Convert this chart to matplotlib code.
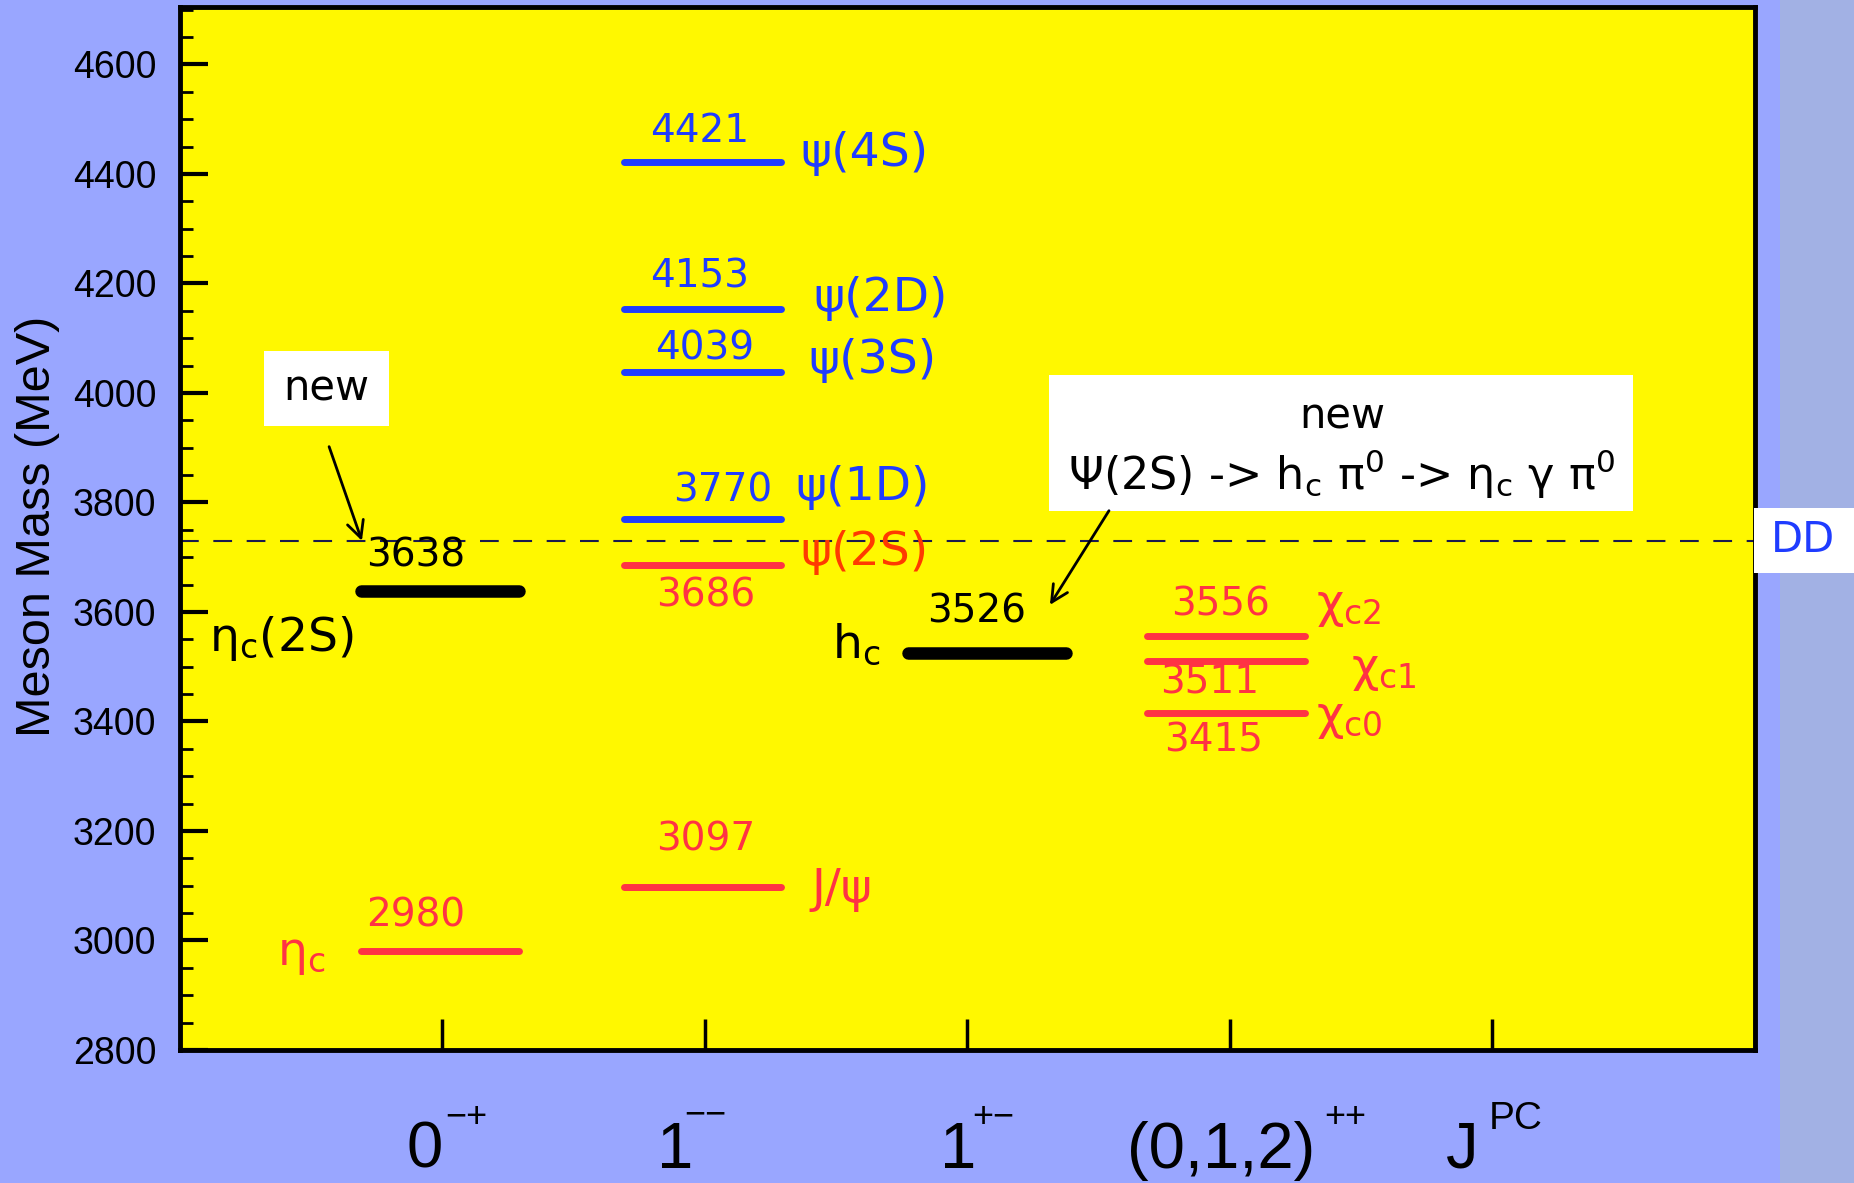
import matplotlib
matplotlib.use("Agg")
import matplotlib.pyplot as plt
from matplotlib.patches import Rectangle
from matplotlib.ticker import MultipleLocator
from matplotlib.transforms import blended_transform_factory

# ---- data -------------------------------------------------------------
jpc_base = ["0", "1", "1", "(0,1,2)", "J"]
jpc_sup = ["\u2212+", "\u2212\u2212", "+\u2212", "++", "PC"]

state_names = ["eta_c", "eta_c(2S)", "J/psi", "psi(2S)", "psi(1D)", "psi(3S)",
               "psi(2D)", "psi(4S)", "h_c", "chi_c0", "chi_c1", "chi_c2"]
state_mass = [2980, 3638, 3097, 3686, 3770, 4039, 4153, 4421, 3526, 3415, 3511, 3556]
state_column = [1, 1, 2, 2, 2, 2, 2, 2, 3, 4, 4, 4]
state_group = ["known", "new", "known", "known", "open", "open", "open", "open",
               "new", "known", "known", "known"]
dd_threshold = 3730

# ---- style ------------------------------------------------------------
BG = "#99A6FF"
YELLOW = "#FFF800"
RED = "#FF3344"
BLUE = "#1F3CFF"
ORANGE = "#FF3A00"
group_color = {"known": RED, "open": BLUE, "new": "black"}
group_lw = {"known": 5, "open": 5, "new": 9}
column_shift = {1: -0.01, 2: -0.01, 3: 0.075, 4: -0.015}
half_width = 0.30

COMIC = ["DejaVu Sans"]
SANS = ["Liberation Sans", "DejaVu Sans"]

fig = plt.figure(figsize=(18.54, 11.83), dpi=100, facecolor=BG)
fig.patches.append(Rectangle((0.960, 0), 0.040, 1, transform=fig.transFigure,
                             facecolor="#A2B1E4", edgecolor="none", zorder=0))

ax = fig.add_axes([180 / 1854, 1 - 1050 / 1183, 1575 / 1854, 1043 / 1183])
ax.set_facecolor(YELLOW)
ax.set_xlim(0, 6)
ax.set_ylim(2800, 4705)

for s in ax.spines.values():
    s.set_linewidth(3.5)
ax.yaxis.set_major_locator(MultipleLocator(200))
ax.yaxis.set_minor_locator(MultipleLocator(50))
ax.set_xticks([1, 2, 3, 4, 5, 6])
ax.set_xticklabels([])
ax.tick_params(axis="y", which="major", direction="in", length=20, width=3,
               labelsize=27, pad=17)
ax.tick_params(axis="y", which="minor", direction="in", length=9, width=2)
ax.tick_params(axis="x", which="major", direction="in", length=22, width=2.5)
for lab in ax.get_yticklabels():
    lab.set_family(SANS)

fig.text(38 / 1854, 1 - 526 / 1183, "Meson Mass (MeV)", rotation=90,
         ha="center", va="center", fontsize=35, family=SANS)

# J^PC labels under the columns (base symbol with a raised P C part)
base_x = [0.933, 1.886, 2.964, 3.968, 4.885]
sup_x = [1.091, 2.0, 3.097, 4.438, 5.09]
sup_y = [-0.074, -0.071, -0.074, -0.074, -0.0755]
sup_size = [26, 26, 26, 26, 28]
tx = blended_transform_factory(ax.transData, ax.transAxes)
for b, s, bx, sx, sy, fs in zip(jpc_base, jpc_sup, base_x, sup_x, sup_y, sup_size):
    ax.text(bx, -0.113, b, transform=tx, ha="center", va="baseline",
            fontsize=47, family=SANS, clip_on=False)
    ax.text(sx, sy, s, transform=tx, ha="center", va="baseline",
            fontsize=fs, family=SANS, clip_on=False)

# DD threshold
ax.axhline(dd_threshold, color="#1A1A4D", lw=1.5, dashes=(9, 7), zorder=2)
fig.patches.append(Rectangle((1754 / 1854, 1 - 573 / 1183), 100 / 1854, 65 / 1183,
                             transform=fig.transFigure, facecolor="white",
                             edgecolor="none", zorder=1))
fig.text(1803 / 1854, 1 - 540 / 1183, "DD", ha="center", va="center",
         fontsize=30, color=BLUE, family=COMIC)

# energy levels
for name, m, c, g in zip(state_names, state_mass, state_column, state_group):
    xc = c + column_shift[c]
    ax.plot([xc - half_width, xc + half_width], [m, m], color=group_color[g],
            lw=group_lw[g], solid_capstyle="round", zorder=3)

# mass values written beside each level
value_pos = {"eta_c": (0.899, 3045), "eta_c(2S)": (0.899, 3703),
             "J/psi": (2.004, 3185), "psi(2S)": (2.004, 3631),
             "psi(1D)": (2.069, 3821), "psi(3S)": (2.0, 4081),
             "psi(2D)": (1.981, 4213), "psi(4S)": (1.981, 4478),
             "h_c": (3.036, 3600), "chi_c0": (3.939, 3365),
             "chi_c1": (3.924, 3471), "chi_c2": (3.962, 3613)}
for name, m, g in zip(state_names, state_mass, state_group):
    x, y = value_pos[name]
    ax.text(x, y, str(m), ha="center", va="center", fontsize=28,
            color=group_color[g], family=COMIC, zorder=4)

# state names
name_text = {"eta_c": (r"η$_{\mathregular{c}}$", 0.461, 2975, "center", RED),
             "eta_c(2S)": (r"η$_{\mathregular{c}}$(2S)", 0.11, 3552, "left", "black"),
             "J/psi": ("J/ψ", 2.404, 3094, "left", RED),
             "psi(2S)": ("ψ(2S)", 2.362, 3708, "left", ORANGE),
             "psi(1D)": ("ψ(1D)", 2.343, 3827, "left", BLUE),
             "psi(3S)": ("ψ(3S)", 2.392, 4059, "left", BLUE),
             "psi(2D)": ("ψ(2D)", 2.411, 4172, "left", BLUE),
             "psi(4S)": ("ψ(4S)", 2.362, 4437, "left", BLUE),
             "h_c": (r"h$_{\mathregular{c}}$", 2.575, 3541, "center", "black"),
             "chi_c0": (r"χ$_{\mathregular{c0}}$", 4.328, 3406, "left", RED),
             "chi_c1": (r"χ$_{\mathregular{c1}}$", 4.461, 3493, "left", RED),
             "chi_c2": (r"χ$_{\mathregular{c2}}$", 4.328, 3610, "left", RED)}
for name in state_names:
    t, x, y, ha, col = name_text[name]
    ax.text(x, y, t, ha=ha, va="center", fontsize=34, color=col,
            family=COMIC, zorder=4)

# "new" call-outs
ax.add_patch(Rectangle((0.32, 3940), 0.476, 137, facecolor="white",
                       edgecolor="none", zorder=3))
ax.text(0.556, 4008, "new", ha="center", va="center", fontsize=30,
        family=COMIC, zorder=4)
ax.annotate("", xy=(0.693, 3730), xytext=(0.568, 3902),
            arrowprops=dict(arrowstyle="->", lw=2, color="black",
                            mutation_scale=30, shrinkA=0, shrinkB=0), zorder=4)

ax.add_patch(Rectangle((3.310, 3785), 2.225, 247, facecolor="white",
                       edgecolor="none", zorder=3))
ax.text(4.427, 3957, "new", ha="center", va="center", fontsize=30,
        family=COMIC, zorder=4)
ax.text(4.427, 3851,
        r"Ψ(2S) -> h$_{\mathregular{c}}$ π$^{\mathregular{0}}$ -> "
        r"η$_{\mathregular{c}}$ γ π$^{\mathregular{0}}$",
        ha="center", va="center", fontsize=32, family=COMIC, zorder=4)
ax.annotate("", xy=(3.314, 3613), xytext=(3.539, 3785),
            arrowprops=dict(arrowstyle="->", lw=2, color="black",
                            mutation_scale=30, shrinkA=0, shrinkB=0), zorder=4)

fig.savefig("out.png", dpi=100, facecolor=BG)
